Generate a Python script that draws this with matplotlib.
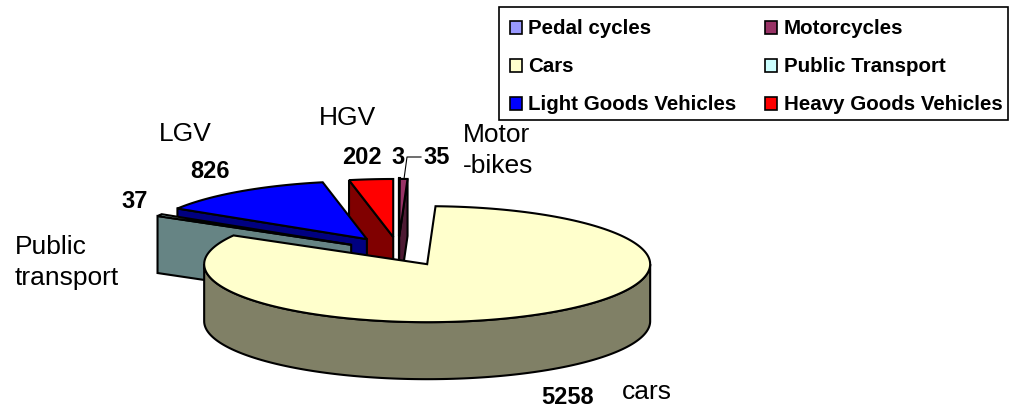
import numpy as np
import matplotlib
matplotlib.use("Agg")
import matplotlib.pyplot as plt
from matplotlib.patches import Polygon, Rectangle

plt.rcParams['font.family'] = ['Liberation Sans', 'DejaVu Sans']

# ---- data ----
categories = ["Pedal cycles", "Motorcycles", "Cars", "Public Transport",
              "Light Goods Vehicles", "Heavy Goods Vehicles"]
values = [3, 35, 5258, 37, 826, 202]
colors = ["#9999FF", "#993366", "#FFFFCC", "#CCFFFF", "#0000FF", "#FF0000"]
side_colors = ["#4D4D80", "#4D1A33", "#808066", "#668484", "#000080", "#800000"]
value_labels = {"202": (362, 157.5), "3": (398, 157), "35": (437, 157),
                "826": (210, 171), "37": (135, 201), "5258": (568, 398)}
name_labels = [("LGV", 159, 134), ("HGV", 319, 118), ("Motor", 463, 135),
               ("-bikes", 463, 166), ("Public", 15, 247), ("transport", 15, 278),
               ("cars", 622, 392)]

# ---- geometry of the 3D pie (pixel space) ----
CX, CY = 399.0, 251.0
RX, RY = 223.0, 58.0
DEPTH = 57.0
EXPLODE = 0.26
LW = 1.5

fig = plt.figure(figsize=(10.13, 4.13), dpi=100)
ax = fig.add_axes([0, 0, 1, 1])
ax.set_xlim(0, 1013)
ax.set_ylim(413, 0)
ax.axis("off")

total = sum(values)
edges = np.concatenate([[0], np.cumsum(values)]) / total * 2 * np.pi


def pt(theta, apex):
    return apex[0] + RX * np.sin(theta), apex[1] - RY * np.cos(theta)


def arc(a, b, apex, n=200):
    t = np.linspace(a, b, n)
    return np.column_stack(pt(t, apex))


def poly(xy, fc, z):
    ax.add_patch(Polygon(xy, closed=True, fc=fc, ec="black", lw=LW,
                         joinstyle="miter", zorder=z))


def slice3d(i, z, start_face=True, end_face=False, nudge=(0, 0)):
    a, b = edges[i], edges[i + 1]
    mid = (a + b) / 2
    apex = (CX + EXPLODE * RX * np.sin(mid) + nudge[0],
            CY - EXPLODE * RY * np.cos(mid) + nudge[1])
    down = np.array([0, DEPTH])
    ap = np.array(apex)
    for flag, ang in ((start_face, a), (end_face, b)):
        if flag:
            p = np.array(pt(ang, apex))
            poly([p, ap, ap + down, p + down], side_colors[i], z)
    lo, hi = max(a, np.pi / 2), min(b, 3 * np.pi / 2)
    if hi > lo:
        outer = arc(lo, hi, apex)
        poly(np.vstack([outer, (outer + down)[::-1]]), side_colors[i], z)
    poly(np.vstack([ap, arc(a, b, apex)]), colors[i], z + 0.5)


slice3d(5, 2, nudge=(0, 1))               # HGV
slice3d(0, 3, True, True)                 # pedal cycles
slice3d(1, 4, False, True, nudge=(-1, 1))  # motorcycles
slice3d(4, 5, nudge=(1, 0.5))             # LGV
slice3d(3, 6, nudge=(2, 1.5))             # public transport
slice3d(2, 7, False, False)               # cars

# ---- labels ----
for s, (x, y) in value_labels.items():
    ax.text(x, y, s, ha="center", va="center", fontsize=17, fontweight="bold",
            color="black", zorder=10)
for s, x, y in name_labels:
    ax.text(x, y, s, ha="left", va="center", fontsize=19, color="black", zorder=10)
ax.plot([404, 407, 421], [179, 157, 157], color="black", lw=0.8, zorder=9)

# ---- legend ----
ax.add_patch(Rectangle((499, 7), 509, 113, fc="white", ec="black", lw=1.2, zorder=10))
col_x = [509.5, 764.5]
row_y = [27, 65, 103]
for i, name in enumerate(categories):
    x = col_x[i % 2]
    y = row_y[i // 2]
    ax.add_patch(Rectangle((x, y - 6), 12.5, 12.5, fc=colors[i], ec="black", lw=1.2, zorder=11))
    ax.text(x + 19, y + 1, name, ha="left", va="center", fontsize=14.8, fontweight="bold",
            color="black", zorder=11)

fig.savefig("out.png", dpi=100, facecolor="white")
